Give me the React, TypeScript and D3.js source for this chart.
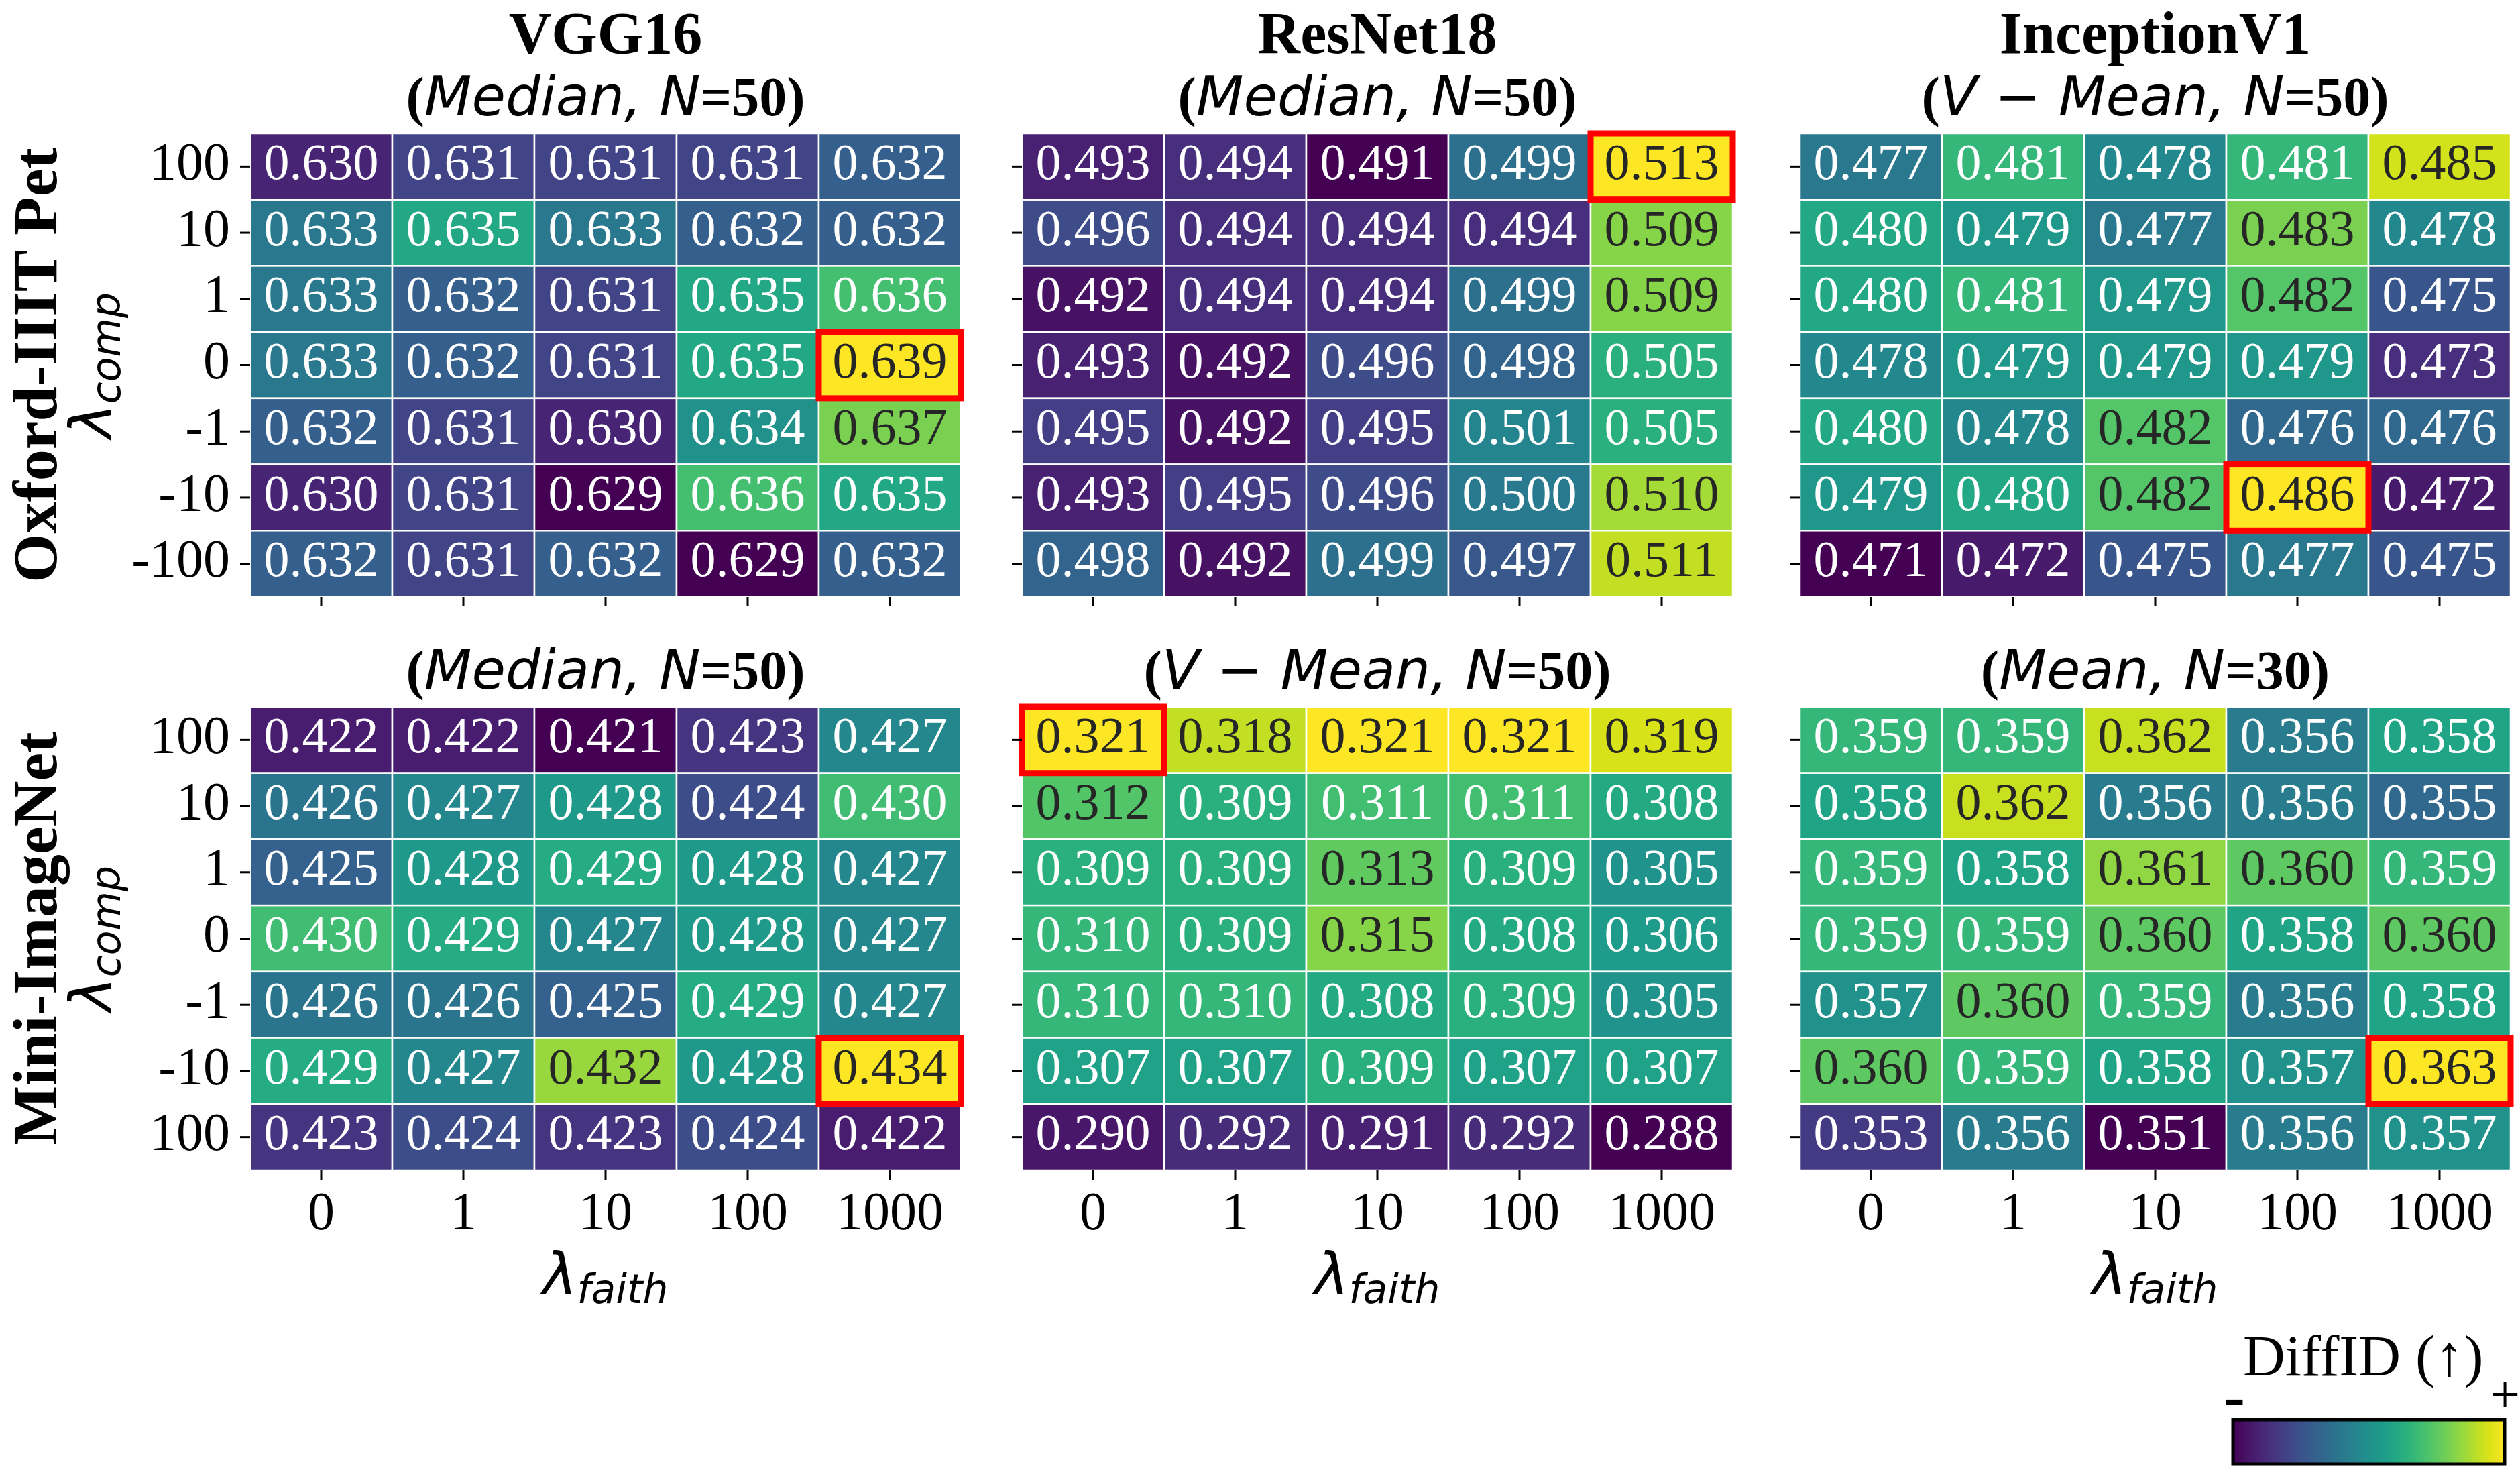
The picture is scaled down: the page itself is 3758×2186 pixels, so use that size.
import React from "react";
import * as d3 from "d3";

// lambda_faith (columns) and lambda_comp (rows)
const faithLabels = ["0", "1", "10", "100", "1000"];
const compLabelsTop = ["100", "10", "1", "0", "-1", "-10", "-100"];
const compLabelsBottom = ["100", "10", "1", "0", "-1", "-10", "100"];

const models = ["VGG16", "ResNet18", "InceptionV1"];
const datasets = ["Oxford-IIIT Pet", "Mini-ImageNet"];

// aggregation used in each panel, row by row
const statTop = ["Median", "Median", "V \u2212 Mean"];
const statBottom = ["Median", "V \u2212 Mean", "Mean"];
const nTop = [50, 50, 50];
const nBottom = [50, 50, 30];

const vggPet = [
  [0.630, 0.631, 0.631, 0.631, 0.632],
  [0.633, 0.635, 0.633, 0.632, 0.632],
  [0.633, 0.632, 0.631, 0.635, 0.636],
  [0.633, 0.632, 0.631, 0.635, 0.639],
  [0.632, 0.631, 0.630, 0.634, 0.637],
  [0.630, 0.631, 0.629, 0.636, 0.635],
  [0.632, 0.631, 0.632, 0.629, 0.632],
];
const resnetPet = [
  [0.493, 0.494, 0.491, 0.499, 0.513],
  [0.496, 0.494, 0.494, 0.494, 0.509],
  [0.492, 0.494, 0.494, 0.499, 0.509],
  [0.493, 0.492, 0.496, 0.498, 0.505],
  [0.495, 0.492, 0.495, 0.501, 0.505],
  [0.493, 0.495, 0.496, 0.500, 0.510],
  [0.498, 0.492, 0.499, 0.497, 0.511],
];
const inceptionPet = [
  [0.477, 0.481, 0.478, 0.481, 0.485],
  [0.480, 0.479, 0.477, 0.483, 0.478],
  [0.480, 0.481, 0.479, 0.482, 0.475],
  [0.478, 0.479, 0.479, 0.479, 0.473],
  [0.480, 0.478, 0.482, 0.476, 0.476],
  [0.479, 0.480, 0.482, 0.486, 0.472],
  [0.471, 0.472, 0.475, 0.477, 0.475],
];
const vggMini = [
  [0.422, 0.422, 0.421, 0.423, 0.427],
  [0.426, 0.427, 0.428, 0.424, 0.430],
  [0.425, 0.428, 0.429, 0.428, 0.427],
  [0.430, 0.429, 0.427, 0.428, 0.427],
  [0.426, 0.426, 0.425, 0.429, 0.427],
  [0.429, 0.427, 0.432, 0.428, 0.434],
  [0.423, 0.424, 0.423, 0.424, 0.422],
];
const resnetMini = [
  [0.321, 0.318, 0.321, 0.321, 0.319],
  [0.312, 0.309, 0.311, 0.311, 0.308],
  [0.309, 0.309, 0.313, 0.309, 0.305],
  [0.310, 0.309, 0.315, 0.308, 0.306],
  [0.310, 0.310, 0.308, 0.309, 0.305],
  [0.307, 0.307, 0.309, 0.307, 0.307],
  [0.290, 0.292, 0.291, 0.292, 0.288],
];
const inceptionMini = [
  [0.359, 0.359, 0.362, 0.356, 0.358],
  [0.358, 0.362, 0.356, 0.356, 0.355],
  [0.359, 0.358, 0.361, 0.360, 0.359],
  [0.359, 0.359, 0.360, 0.358, 0.360],
  [0.357, 0.360, 0.359, 0.356, 0.358],
  [0.360, 0.359, 0.358, 0.357, 0.363],
  [0.353, 0.356, 0.351, 0.356, 0.357],
];

const grid = [
  [vggPet, resnetPet, inceptionPet],
  [vggMini, resnetMini, inceptionMini],
];

const W = 3758,
  H = 2186;
const panelX = [373, 1524, 2684];
const panelY = [199, 1054];
const pw = 1060,
  ph = 691;

const SERIF = "'Liberation Serif', 'Times New Roman', serif";
const SANS = "'DejaVu Sans', sans-serif";

// relative luminance, same rule seaborn uses to pick the annotation colour
const luminance = (c) => {
  const rgb = d3.rgb(c);
  const f = (v) => {
    v /= 255;
    return v <= 0.03928 ? v / 12.92 : Math.pow((v + 0.055) / 1.055, 2.4);
  };
  return 0.2126 * f(rgb.r) + 0.7152 * f(rgb.g) + 0.0722 * f(rgb.b);
};

const Subtitle = ({ x, y, stat, n }) => (
  <text x={x} y={y} textAnchor="middle" fontSize={82}>
    <tspan fontFamily={SERIF} fontWeight="bold">(</tspan>
    <tspan fontFamily={SANS} fontStyle="italic">
      {stat}, N
    </tspan>
    <tspan fontFamily={SERIF} fontWeight="bold">
      ={n})
    </tspan>
  </text>
);

const Heatmap = ({ values, x0, y0, showX, yLabels }) => {
  const x = d3.scaleBand().domain(d3.range(5)).range([x0, x0 + pw]);
  const y = d3.scaleBand().domain(d3.range(7)).range([y0, y0 + ph]);
  const flat = values.flat();
  const color = d3
    .scaleSequential(d3.interpolateViridis)
    .domain(d3.extent(flat));
  const best = d3.maxIndex(flat);
  const bi = Math.floor(best / 5),
    bj = best % 5;

  return (
    <g>
      {values.map((row, i) =>
        row.map((v, j) => {
          const c = color(v);
          return (
            <g key={i + "-" + j}>
              <rect
                x={x(j)}
                y={y(i)}
                width={x.bandwidth()}
                height={y.bandwidth()}
                fill={c}
                stroke="white"
                strokeWidth={2.5}
              />
              <text
                x={x(j) + x.bandwidth() / 2}
                y={y(i) + y.bandwidth() / 2}
                dy="0.245em"
                textAnchor="middle"
                fontFamily={SERIF}
                fontSize={76}
                fill={luminance(c) > 0.408 ? "#262626" : "white"}
              >
                {v.toFixed(3)}
              </text>
            </g>
          );
        })
      )}
      <rect
        x={x(bj)}
        y={y(bi)}
        width={x.bandwidth()}
        height={y.bandwidth()}
        fill="none"
        stroke="#ff0000"
        strokeWidth={9}
      />
      {d3.range(7).map((i) => (
        <line
          key={"yt" + i}
          x1={x0 - 15}
          x2={x0}
          y1={y(i) + y.bandwidth() / 2}
          y2={y(i) + y.bandwidth() / 2}
          stroke="black"
          strokeWidth={3}
        />
      ))}
      {yLabels &&
        yLabels.map((l, i) => (
          <text
            key={"yl" + i}
            x={x0 - 30}
            y={y(i) + y.bandwidth() / 2}
            dy="0.245em"
            textAnchor="end"
            fontFamily={SERIF}
            fontSize={80}
          >
            {l}
          </text>
        ))}
      {d3.range(5).map((j) => (
        <line
          key={"xt" + j}
          x1={x(j) + x.bandwidth() / 2}
          x2={x(j) + x.bandwidth() / 2}
          y1={y0 + ph}
          y2={y0 + ph + 14}
          stroke="black"
          strokeWidth={3}
        />
      ))}
      {showX &&
        faithLabels.map((l, j) => (
          <text
            key={"xl" + j}
            x={x(j) + x.bandwidth() / 2}
            y={y0 + ph + 88}
            textAnchor="middle"
            fontFamily={SERIF}
            fontSize={80}
          >
            {l}
          </text>
        ))}
      {showX && (
        <text
          x={x0 + pw / 2}
          y={y0 + ph + 184}
          textAnchor="middle"
          fontFamily={SANS}
          fontStyle="italic"
        >
          <tspan fontSize={86}>λ</tspan>
          <tspan fontSize={60} dy={14}>
            faith
          </tspan>
        </text>
      )}
    </g>
  );
};

const App = () => {
  const stops = d3.range(0, 1.0001, 0.05);
  return (
    <svg
      width={W}
      height={H}
      style={{ position: "absolute", left: 0, top: 0, background: "white" }}
    >
      <defs>
        <linearGradient id="viridis" x1="0" x2="1" y1="0" y2="0">
          {stops.map((t) => (
            <stop key={t} offset={t} stopColor={d3.interpolateViridis(t)} />
          ))}
        </linearGradient>
      </defs>

      {grid.map((row, r) =>
        row.map((vals, c) => (
          <Heatmap
            key={r + "_" + c}
            values={vals}
            x0={panelX[c]}
            y0={panelY[r]}
            showX={r === 1}
            yLabels={c === 0 ? (r === 0 ? compLabelsTop : compLabelsBottom) : null}
          />
        ))
      )}

      {models.map((m, c) => (
        <text
          key={m}
          x={panelX[c] + pw / 2}
          y={79}
          textAnchor="middle"
          fontFamily={SERIF}
          fontWeight="bold"
          fontSize={88}
        >
          {m}
        </text>
      ))}
      {statTop.map((s, c) => (
        <Subtitle key={"st" + c} x={panelX[c] + pw / 2} y={172} stat={s} n={nTop[c]} />
      ))}
      {statBottom.map((s, c) => (
        <Subtitle key={"sb" + c} x={panelX[c] + pw / 2} y={1027} stat={s} n={nBottom[c]} />
      ))}

      {datasets.map((d, r) => {
        const cy = panelY[r] + ph / 2;
        return (
          <g key={d}>
            <text
              transform={`translate(84,${cy}) rotate(-90)`}
              textAnchor="middle"
              fontFamily={SERIF}
              fontWeight="bold"
              fontSize={94}
            >
              {d}
            </text>
            <text
              transform={`translate(165,${cy}) rotate(-90)`}
              textAnchor="middle"
              fontFamily={SANS}
              fontStyle="italic"
            >
              <tspan fontSize={86}>λ</tspan>
              <tspan fontSize={60} dy={14}>
                comp
              </tspan>
            </text>
          </g>
        );
      })}

      {/* colour bar */}
      <text x={3345} y={2051} fontFamily={SERIF} fontSize={87}>
        DiffID (↑)
      </text>
      <text x={3316} y={2113} fontFamily={SERIF} fontWeight="bold" fontSize={96}>
        -
      </text>
      <text x={3713} y={2106} fontFamily={SERIF} fontSize={80}>
        +
      </text>
      <rect
        x={3330}
        y={2117}
        width={405}
        height={66}
        fill="url(#viridis)"
        stroke="black"
        strokeWidth={5}
      />
    </svg>
  );
};

export default App;
